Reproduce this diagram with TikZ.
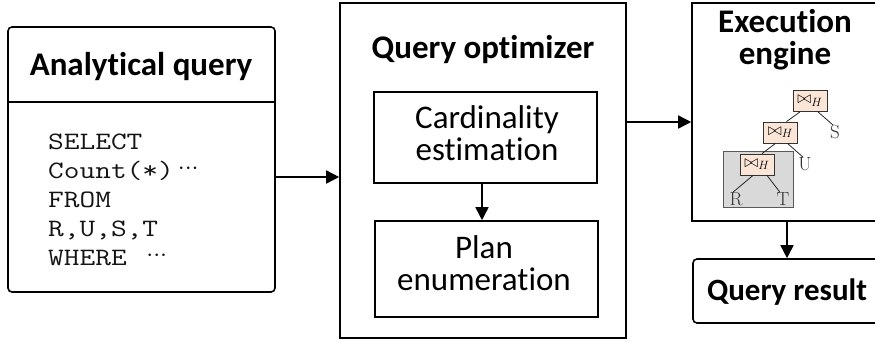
\documentclass[tikz,border=0pt]{standalone}
\usepackage{fontspec}
\usepackage{graphicx}
\usetikzlibrary{arrows.meta}
\newfontfamily\carlito[Ligatures=NoCommon]{Carlito}
\definecolor{joinfill}{HTML}{FBE5D6}
\definecolor{subfill}{HTML}{D9D9D9}
\newcommand{\middots}{\hspace{4pt}\raisebox{3.5pt}{\fontsize{25}{25}\selectfont${\cdotp}{\cdotp}{\cdotp}$}}
\newcommand{\sqlline}[1]{\scalebox{1.22}[1]{#1}}
\tikzset{
  blockframe/.style={draw, line width=1.6pt, inner sep=0pt},
  headtext/.style={font=\carlito\bfseries\fontsize{33}{32}\selectfont, align=center, inner sep=0pt},
  boxtext/.style={font=\carlito\fontsize{33}{32}\selectfont, align=center, inner sep=0pt},
  codeline/.style={font=\ttfamily\fontsize{25}{29}\selectfont, text=black!92, inner sep=0pt, anchor=base west},
  flow/.style={line width=1.6pt, -{Triangle[length=13pt,width=13pt]}},
  joinbox/.style={draw=black!80, line width=0.8pt, fill=joinfill, minimum width=34pt, minimum height=21pt, inner sep=0pt, font=\fontsize{17}{17}\selectfont},
  leafname/.style={font=\fontsize{19}{19}\selectfont, text=black!80, inner sep=0pt},
  treeline/.style={line width=0.8pt, draw=black!85},
}
\begin{document}
\begin{tikzpicture}[x=1pt, y=-1pt]
\useasboundingbox (0,0) rectangle (875,341);
\clip (0,0) rectangle (875,341);

% Input query
\node[blockframe, rounded corners=4pt, minimum width=267pt, minimum height=265pt] (aq) at (141.5,159.5) {};
\draw[line width=1.6pt] (aq.west |- 0,102) -- (aq.east |- 0,102);
\node[headtext, anchor=base] (aqt) at (141,75) {Analytical query};
\node[codeline] (c1) at (48,149) {\sqlline{SELECT}};
\node[codeline] (c2) at (48,178) {\sqlline{Count(*)}\middots};
\node[codeline] (c3) at (48,207) {\sqlline{FROM}};
\node[codeline] (c4) at (48,236) {\sqlline{R,U,S,T}};
\node[codeline] (c5) at (48,265) {\sqlline{WHERE }\middots};

% Optimizer
\node[blockframe, minimum width=286pt, minimum height=335pt] (opt) at (483,170.5) {};
\node[headtext, anchor=base] (optt) at (483,58) {Query optimizer};
\node[blockframe, minimum width=223pt, minimum height=91pt] (card) at (485.5,137.5) {};
\node[boxtext] (cardt) at (487,133) {Cardinality\\estimation};
\node[blockframe, minimum width=223pt, minimum height=96pt] (plan) at (486.5,269) {};
\node[boxtext] (plant) at (484,263) {Plan\\enumeration};

% Execution engine
\node[blockframe, minimum width=188pt, minimum height=218pt] (exec) at (786,112) {};
\node[headtext] (exect) at (785,40) {Execution\\engine};
\node[blockframe, rounded corners=4pt, minimum width=188pt, minimum height=64pt] (res) at (787,291) {};
\node[headtext, font=\carlito\bfseries\fontsize{31}{32}\selectfont, anchor=base] (rest) at (787,300) {Query result};

% Join tree
\node[draw=black!65, line width=0.8pt, fill=subfill, minimum width=70pt, minimum height=56pt, inner sep=0pt] (sub) at (758,179) {};
\node[joinbox] (j1) at (810,101) {$\bowtie_H$};
\node[joinbox] (j2) at (780.5,132.5) {$\bowtie_H$};
\node[joinbox] (j3) at (757,164.5) {$\bowtie_H$};
\node[leafname] (S) at (835,132) {S};
\node[leafname] (U) at (805,164) {U};
\node[leafname] (R) at (736,199) {R};
\node[leafname] (T) at (783,199) {T};
\draw[treeline] ([xshift=-10pt]j1.south) -- ([xshift=6pt]j2.north);
\draw[treeline] ([xshift=8pt]j1.south) -- ([xshift=-2pt]S.north);
\draw[treeline] ([xshift=-5pt]j2.south) -- ([xshift=5pt]j3.north);
\draw[treeline] ([xshift=7pt]j2.south) -- ([xshift=-2pt]U.north);
\draw[treeline] ([xshift=-4pt]j3.south) -- ([xshift=-3pt]R.north);
\draw[treeline] ([xshift=10pt]j3.south) -- ([xshift=-3pt]T.north);

% Flow between stages
\draw[flow] (aq.east |- 0,177) -- (opt.west |- 0,177);
\draw[flow] (card.south -| 482,0) -- (plan.north -| 482,0);
\draw[flow] (opt.east |- 0,122) -- (exec.west |- 0,122);
\draw[flow] (exec.south -| 787,0) -- (res.north -| 787,0);
\end{tikzpicture}
\end{document}
